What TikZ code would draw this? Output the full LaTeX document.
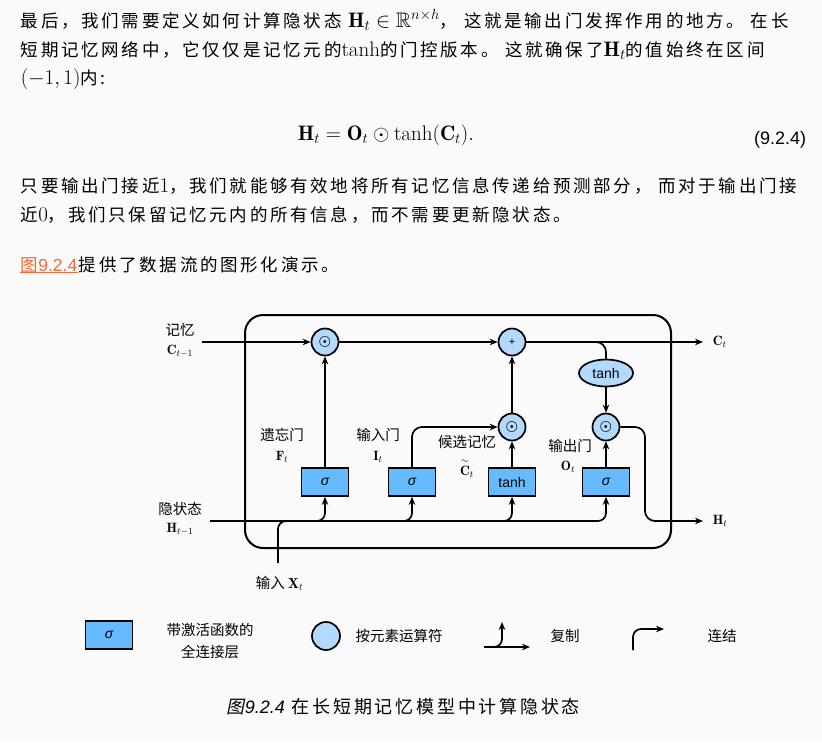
\RequirePackage{fix-cm}
\documentclass[tikz,border=0pt]{standalone}
\usepackage{amsmath}
\usepackage{amsfonts}
\usepackage{amssymb}
\usepackage{xcolor}
\usepackage{fontspec}
\setsansfont{Liberation Sans}
\newfontfamily\cjk{Noto Sans CJK SC}
\newfontfamily\cjkbody[LetterSpace=15.5]{Noto Sans CJK SC}
\newfontfamily\cjkslant[LetterSpace=15.5,FakeSlant=0.2]{Noto Sans CJK SC}
\newcommand\bigmath[1]{{\fontsize{21}{25}\selectfont$#1$}}
\usepackage{tikz}
\usetikzlibrary{shapes,arrows,arrows.meta,positioning}

\definecolor{pagebg}{HTML}{FAFAFA}
\definecolor{layerblue}{HTML}{66BBFF}
\definecolor{opblue}{HTML}{B3D9FF}
\definecolor{linkred}{HTML}{F06A3A}

\begin{document}
\begin{tikzpicture}[x=1pt, y=-1pt, line width=1.7pt]
    % Styles
    \tikzstyle{para}=[anchor=base west, inner sep=0pt, font=\cjkbody\fontsize{17.5}{21}\selectfont]
    \tikzstyle{cnlabel}=[inner sep=0pt, font=\cjk\fontsize{14.5}{17}\selectfont]
    \tikzstyle{mathlabel}=[inner sep=0pt, font=\fontsize{13.5}{16}\selectfont]
    \tikzstyle{layer}=[rectangle, draw=black, fill=layerblue, minimum width=47pt, minimum height=28pt, inner sep=0pt, font=\sffamily\fontsize{14}{16}\selectfont]
    \tikzstyle{op}=[circle, draw=black, fill=opblue, minimum size=27pt, inner sep=0pt, font=\fontsize{14}{16}\selectfont]
    \tikzstyle{arrow}=[->, >={Stealth[length=8pt, width=6.5pt]}]

    \fill[pagebg] (0,0) rectangle (822,742);

    % Text above
    \node (line1) [para] at (20,27) {最后，我们需要定义如何计算隐状态 \bigmath{\mathbf{H}_t\in\mathbb{R}^{n\times h}}， 这就是输出门发挥作用的地方。 在长};
    \node (line2) [para] at (20,56) {短期记忆网络中，它仅仅是记忆元的\bigmath{\tanh}的门控版本。 这就确保了\bigmath{\mathbf{H}_t}的值始终在区间};
    \node (line3) [para] at (20,84) {\bigmath{(-1,1)}内:};
    \node (eq) [anchor=base, inner sep=0pt, font=\fontsize{21}{25}\selectfont] at (386,140) {$\mathbf{H}_t=\mathbf{O}_t\odot\tanh(\mathbf{C}_t).$};
    \node (eqno) [anchor=base east, inner sep=0pt, font=\sffamily\fontsize{18}{21}\selectfont] at (807,144) {(9.2.4)};
    \node (line4) [para] at (20,192) {只要输出门接近\bigmath{1}，我们就能够有效地将所有记忆信息传递给预测部分， 而对于输出门接};
    \node (line5) [para] at (20,221) {近\bigmath{0}，我们只保留记忆元内的所有信息，而不需要更新隐状态。};
    \node (link) [para, text=linkred] at (20,271) {图{\sffamily 9.2.4}};
    \node (linkrest) [para] at (link.base east) {提供了数据流的图形化演示。};
    \draw[linkred, line width=1.2pt] ([yshift=-1.5pt]link.base west) -- ([yshift=-1.5pt]link.base east);

    % Cell
    \node (cell) [draw, line width=2pt, rounded corners=18pt, minimum width=426pt, minimum height=233pt, inner sep=0pt] at (458,431.5) {};

    % Nodes
    \node (fmul) [op] at (325,342) {$\boldsymbol{\odot}$};
    \node (cadd) [op] at (512,342) {\sffamily\fontsize{11}{12}\selectfont +};
    \node (imul) [op] at (512,427) {$\boldsymbol{\odot}$};
    \node (omul) [op] at (606,427) {$\boldsymbol{\odot}$};
    \node (ctanh) [ellipse, draw=black, fill=opblue, minimum width=54pt, minimum height=27pt, inner sep=0pt, font=\sffamily\fontsize{14}{16}\selectfont] at (606,373) {tanh};
    \node (fgate) [layer] at (325,482) {\itshape σ};
    \node (igate) [layer] at (412,482) {\itshape σ};
    \node (cgate) [layer] at (512,482) {tanh};
    \node (ogate) [layer] at (606,482) {\itshape σ};

    \coordinate (cin) at (202,342);
    \coordinate (cout) at (703,342);
    \coordinate (hin) at (210,521);
    \coordinate (hout) at (703,521);
    \coordinate (ojoin) at (645,521);
    \coordinate (xin) at (278,563);
    \coordinate (xjoin) at (300,521);

    % Labels
    \node (cprevcn) [cnlabel] at (180,330) {记忆};
    \node (cprev) [mathlabel] at (180,351) {$\mathbf{C}_{t-1}$};
    \node (hprevcn) [cnlabel] at (180,509) {隐状态};
    \node (hprev) [mathlabel] at (180,529) {$\mathbf{H}_{t-1}$};
    \node (fcn) [cnlabel] at (282,435) {遗忘门};
    \node (fmath) [mathlabel] at (282,457) {$\mathbf{F}_t$};
    \node (icn) [cnlabel] at (378,435) {输入门};
    \node (imath) [mathlabel] at (378,457) {$\mathbf{I}_t$};
    \node (ccn) [cnlabel] at (467,442) {候选记忆};
    \node (cmath) [mathlabel] at (467,468) {$\overset{\sim}{\mathbf{C}}_t$};
    \node (ocn) [cnlabel] at (570,446) {输出门};
    \node (omath) [mathlabel] at (568,467) {$\mathbf{O}_t$};
    \node (xcn) [cnlabel, anchor=west] at (255,583) {输入\ $\mathbf{X}_t$};
    \node (ctmath) [mathlabel, anchor=west] at (712,342) {$\mathbf{C}_t$};
    \node (htmath) [mathlabel, anchor=west] at (712,521) {$\mathbf{H}_t$};

    % Connections
    \draw [arrow] (cin) -- (fmul);
    \draw [arrow] (fmul) -- (cadd);
    \draw [arrow] (cadd) -- (cout);
    \draw [rounded corners=10pt] (cadd.east) -| (ctanh.north);
    \draw [arrow] (ctanh) -- (omul);
    \draw [arrow, rounded corners=10pt] (omul.east) -| (ojoin) -- (hout);
    \draw [arrow] (fgate) -- (fmul);
    \draw [arrow, rounded corners=10pt] (igate.north) |- (imul.west);
    \draw [arrow] (cgate) -- (imul);
    \draw [arrow] (imul) -- (cadd);
    \draw [arrow] (ogate) -- (omul);
    \foreach \g in {fgate,igate,cgate,ogate}
        \draw [arrow, rounded corners=8pt] (hin) -| (\g.south);
    \draw [rounded corners=8pt] (xin) |- (xjoin);

    % Legend
    \node (lglayer) [layer] at (109,635) {\itshape σ};
    \node (lglayertxt) [cnlabel, align=center, font=\cjk\fontsize{14.5}{22}\selectfont] at (210,641) {带激活函数的\\全连接层};
    \node (lgop) [op, minimum size=28pt] at (326,636) {};
    \node (lgoptxt) [cnlabel] at (399,636) {按元素运算符};
    \coordinate (cpa) at (484,647);
    \coordinate (cpb) at (530,647);
    \coordinate (cptop) at (502,622);
    \draw [arrow] (cpa) -- (cpb);
    \draw [arrow, rounded corners=8pt] (cpa) -| (cptop);
    \node (lgcopytxt) [cnlabel] at (565,636) {复制};
    \coordinate (ctbot) at (633,650);
    \coordinate (ctend) at (664,629);
    \draw [arrow, rounded corners=8pt] (ctbot) |- (ctend);
    \node (lgcattxt) [cnlabel] at (722,636) {连结};

    % Caption
    \node (caption) [anchor=base west, inner sep=0pt, font=\cjkbody\fontsize{18}{21}\selectfont] at (226,713) {{\cjkslant 图}{\sffamily\itshape 9.2.4}\ 在长短期记忆模型中计算隐状态};
\end{tikzpicture}
\end{document}
